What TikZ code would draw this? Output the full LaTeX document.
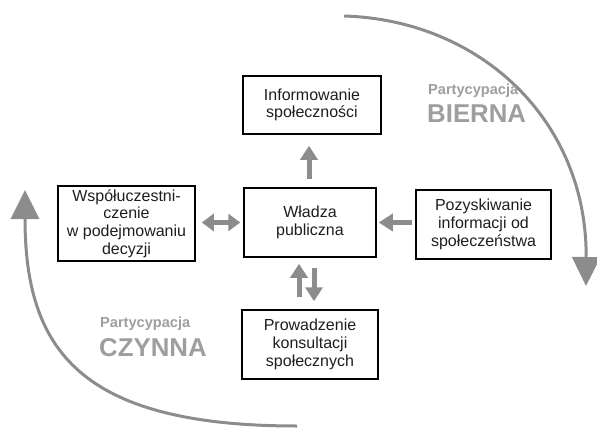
\documentclass[tikz,border=0pt]{standalone}
\usepackage{fontspec}
\setmainfont{Liberation Sans}
\usetikzlibrary{arrows.meta}
\definecolor{arrowgray}{RGB}{140,140,140}
\definecolor{labelgray}{RGB}{158,158,158}
\definecolor{boxtext}{RGB}{30,30,30}
\begin{document}
\begin{tikzpicture}[x=1pt,y=-1pt,
  box/.style={draw=black, line width=1.5pt, align=center, inner sep=0pt,
    text=boxtext, font=\fontsize{16}{17.7}\selectfont},
  garrow/.style={draw=arrowgray, line width=5pt,
    -{Triangle[length=14pt,width=17pt]}},
  gdouble/.style={draw=arrowgray, line width=5pt,
    {Triangle[length=12pt,width=17pt]}-{Triangle[length=12pt,width=17pt]}},
  cycle arrow/.style={draw=arrowgray, line width=3pt,
    -{Triangle[length=29pt,width=28pt]}},
  small label/.style={text=labelgray, font=\bfseries\fontsize{14.6}{16}\selectfont, anchor=west, inner sep=0pt},
  big label/.style={text=labelgray, font=\bfseries\fontsize{25.8}{28}\selectfont, anchor=west, inner sep=0pt}]
\useasboundingbox (0,0) rectangle (597,428);

% boxes
\node[box, minimum width=138pt, minimum height=58pt] (info) at (312,105)
  {Informowanie\\społeczności};
\node[box, minimum width=132pt, minimum height=69pt] (wladza) at (310,222.5)
  {Władza\\publiczna};
\node[box, minimum width=137pt, minimum height=75pt] (wspol) at (126.5,223.5)
  {Współuczestni-\\czenie\\w podejmowaniu\\decyzji};
\node[box, minimum width=135pt, minimum height=69pt] (pozysk) at (483.5,224.5)
  {Pozyskiwanie\\informacji od\\społeczeństwa};
\node[box, minimum width=136pt, minimum height=69pt] (prow) at (310,344.5)
  {Prowadzenie\\konsultacji\\społecznych};

% connectors between the boxes
\draw[garrow, shorten <=8pt, shorten >=11pt]
  ([xshift=-1pt]wladza.north) -- ([xshift=-3pt]info.south);
\draw[gdouble, shorten <=6pt, shorten >=3pt]
  (wspol.east |- wladza.west) -- (wladza.west);
\draw[garrow, shorten <=3pt, shorten >=2pt]
  (pozysk.west |- wladza.east) -- (wladza.east);
\draw[garrow, shorten <=12pt, shorten >=6pt]
  ([xshift=-11pt]prow.north) -- ([xshift=-11pt]wladza.south);
\draw[garrow, shorten <=10pt, shorten >=8pt]
  ([xshift=4pt]wladza.south) -- ([xshift=4pt]prow.north);

% participation cycle
\coordinate (biernaStart) at (344,16);
\coordinate (biernaEnd) at (586,286);
\coordinate (czynnaStart) at (297,426);
\coordinate (czynnaEnd) at (25,190);
\draw[cycle arrow] (biernaStart) .. controls (480,20) and (587,120) .. (biernaEnd);
\draw[cycle arrow] (czynnaStart) .. controls (80,426) and (25,350) .. (czynnaEnd);

% cycle labels
\node[small label] (pbierna) at (428,91) {Partycypacja};
\node[big label] (bierna) at (427,114) {BIERNA};
\node[small label] (pczynna) at (100,324) {Partycypacja};
\node[big label] (czynna) at (99,348) {CZYNNA};
\end{tikzpicture}
\end{document}
